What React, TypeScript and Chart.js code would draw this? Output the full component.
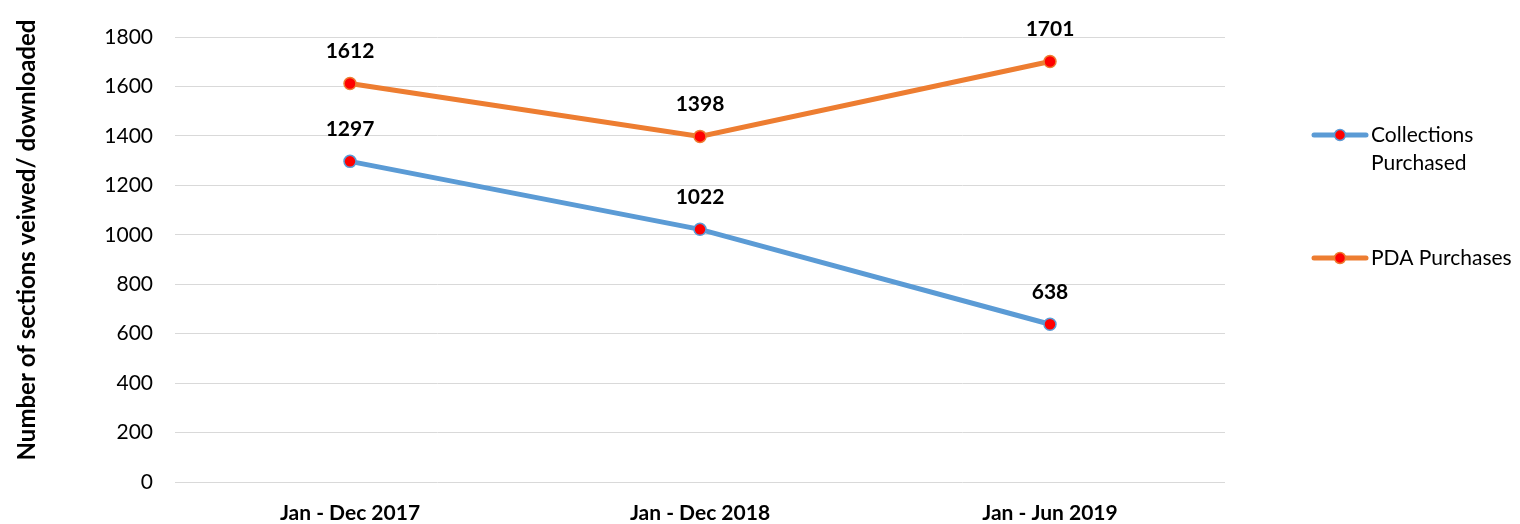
import React, { useEffect, useRef } from "react";
import { Chart, registerables } from "chart.js";

Chart.register(...registerables);

const categories = ["Jan - Dec 2017", "Jan - Dec 2018", "Jan - Jun 2019"];
const collectionsPurchased = [1297, 1022, 638];
const pdaPurchases = [1612, 1398, 1701];
const seriesNames = [["Collections", "Purchased"], ["PDA Purchases"]];
const yTitle = "Number of sections veiwed/ downloaded";

const FONT = "Lato, 'Open Sans', sans-serif";
const BLUE = "#5B9BD5";
const ORANGE = "#ED7D31";

const overlayPlugin = {
  id: "overlay",
  afterDatasetsDraw(chart: any) {
    const ctx = chart.ctx;
    ctx.save();
    // data labels
    ctx.font = `bold 21px ${FONT}`;
    ctx.fillStyle = "#000";
    ctx.textAlign = "center";
    ctx.textBaseline = "middle";
    chart.data.datasets.forEach((ds: any, i: number) => {
      const meta = chart.getDatasetMeta(i);
      meta.data.forEach((pt: any, j: number) => {
        ctx.fillText(String(ds.data[j]), pt.x, pt.y - 32);
      });
    });
    // y title
    ctx.save();
    ctx.translate(27, 240);
    ctx.rotate(-Math.PI / 2);
    ctx.font = `bold 24px ${FONT}`;
    ctx.fillText(yTitle, 0, 0);
    ctx.restore();
    // legend
    const items = [
      { color: BLUE, y: 135, lines: seriesNames[0] },
      { color: ORANGE, y: 258, lines: seriesNames[1] },
    ];
    items.forEach((it) => {
      ctx.strokeStyle = it.color;
      ctx.lineWidth = 5;
      ctx.lineCap = "round";
      ctx.beginPath();
      ctx.moveTo(1314, it.y);
      ctx.lineTo(1366, it.y);
      ctx.stroke();
      ctx.beginPath();
      ctx.arc(1340, it.y, 5.5, 0, Math.PI * 2);
      ctx.fillStyle = "#FF0000";
      ctx.fill();
      ctx.lineWidth = 1.5;
      ctx.strokeStyle = it.color;
      ctx.stroke();
      ctx.fillStyle = "#000";
      ctx.font = `21px ${FONT}`;
      ctx.textAlign = "left";
      it.lines.forEach((t, k) => ctx.fillText(t, 1371, it.y + k * 28));
    });
    ctx.restore();
  },
};

export default function App() {
  const ref = useRef<HTMLCanvasElement>(null);
  useEffect(() => {
    const chart = new Chart(ref.current!, {
      type: "line",
      data: {
        labels: categories,
        datasets: [
          {
            label: seriesNames[0].join(" "),
            data: collectionsPurchased,
            borderColor: BLUE,
            borderWidth: 5,
            pointBackgroundColor: "#FF0000",
            pointBorderColor: BLUE,
            pointBorderWidth: 1.5,
            pointRadius: 6,
            tension: 0,
          },
          {
            label: seriesNames[1].join(" "),
            data: pdaPurchases,
            borderColor: ORANGE,
            borderWidth: 5,
            pointBackgroundColor: "#FF0000",
            pointBorderColor: ORANGE,
            pointBorderWidth: 1.5,
            pointRadius: 6,
            tension: 0,
          },
        ],
      },
      options: {
        animation: false,
        responsive: false,
        layout: { padding: { top: 37, right: 295, bottom: 0, left: 0 } },
        plugins: { legend: { display: false }, tooltip: { enabled: false } },
        scales: {
          x: {
            offset: true,
            grid: { display: false, drawTicks: false },
            border: { display: false },
            ticks: { padding: 19, color: "#000", font: { family: FONT, size: 21, weight: "bold" } },
            afterFit: (s: any) => { s.height = 42; },
          },
          y: {
            min: 0,
            max: 1800,
            ticks: {
              stepSize: 200,
              padding: 22,
              color: "#000",
              font: { family: FONT, size: 21 },
              callback: (v: any) => String(v),
            },
            grid: { color: "#D9D9D9", lineWidth: 1, drawTicks: false },
            border: { display: false },
            afterFit: (s: any) => { s.width = 175; },
          },
        },
      },
      plugins: [overlayPlugin],
    });
    return () => chart.destroy();
  }, []);
  return (
    <div style={{ position: "fixed", left: 0, top: 0, width: 1520, height: 524, background: "#fff" }}>
      <canvas ref={ref} width={1520} height={524} style={{ width: 1520, height: 524 }} />
    </div>
  );
}
